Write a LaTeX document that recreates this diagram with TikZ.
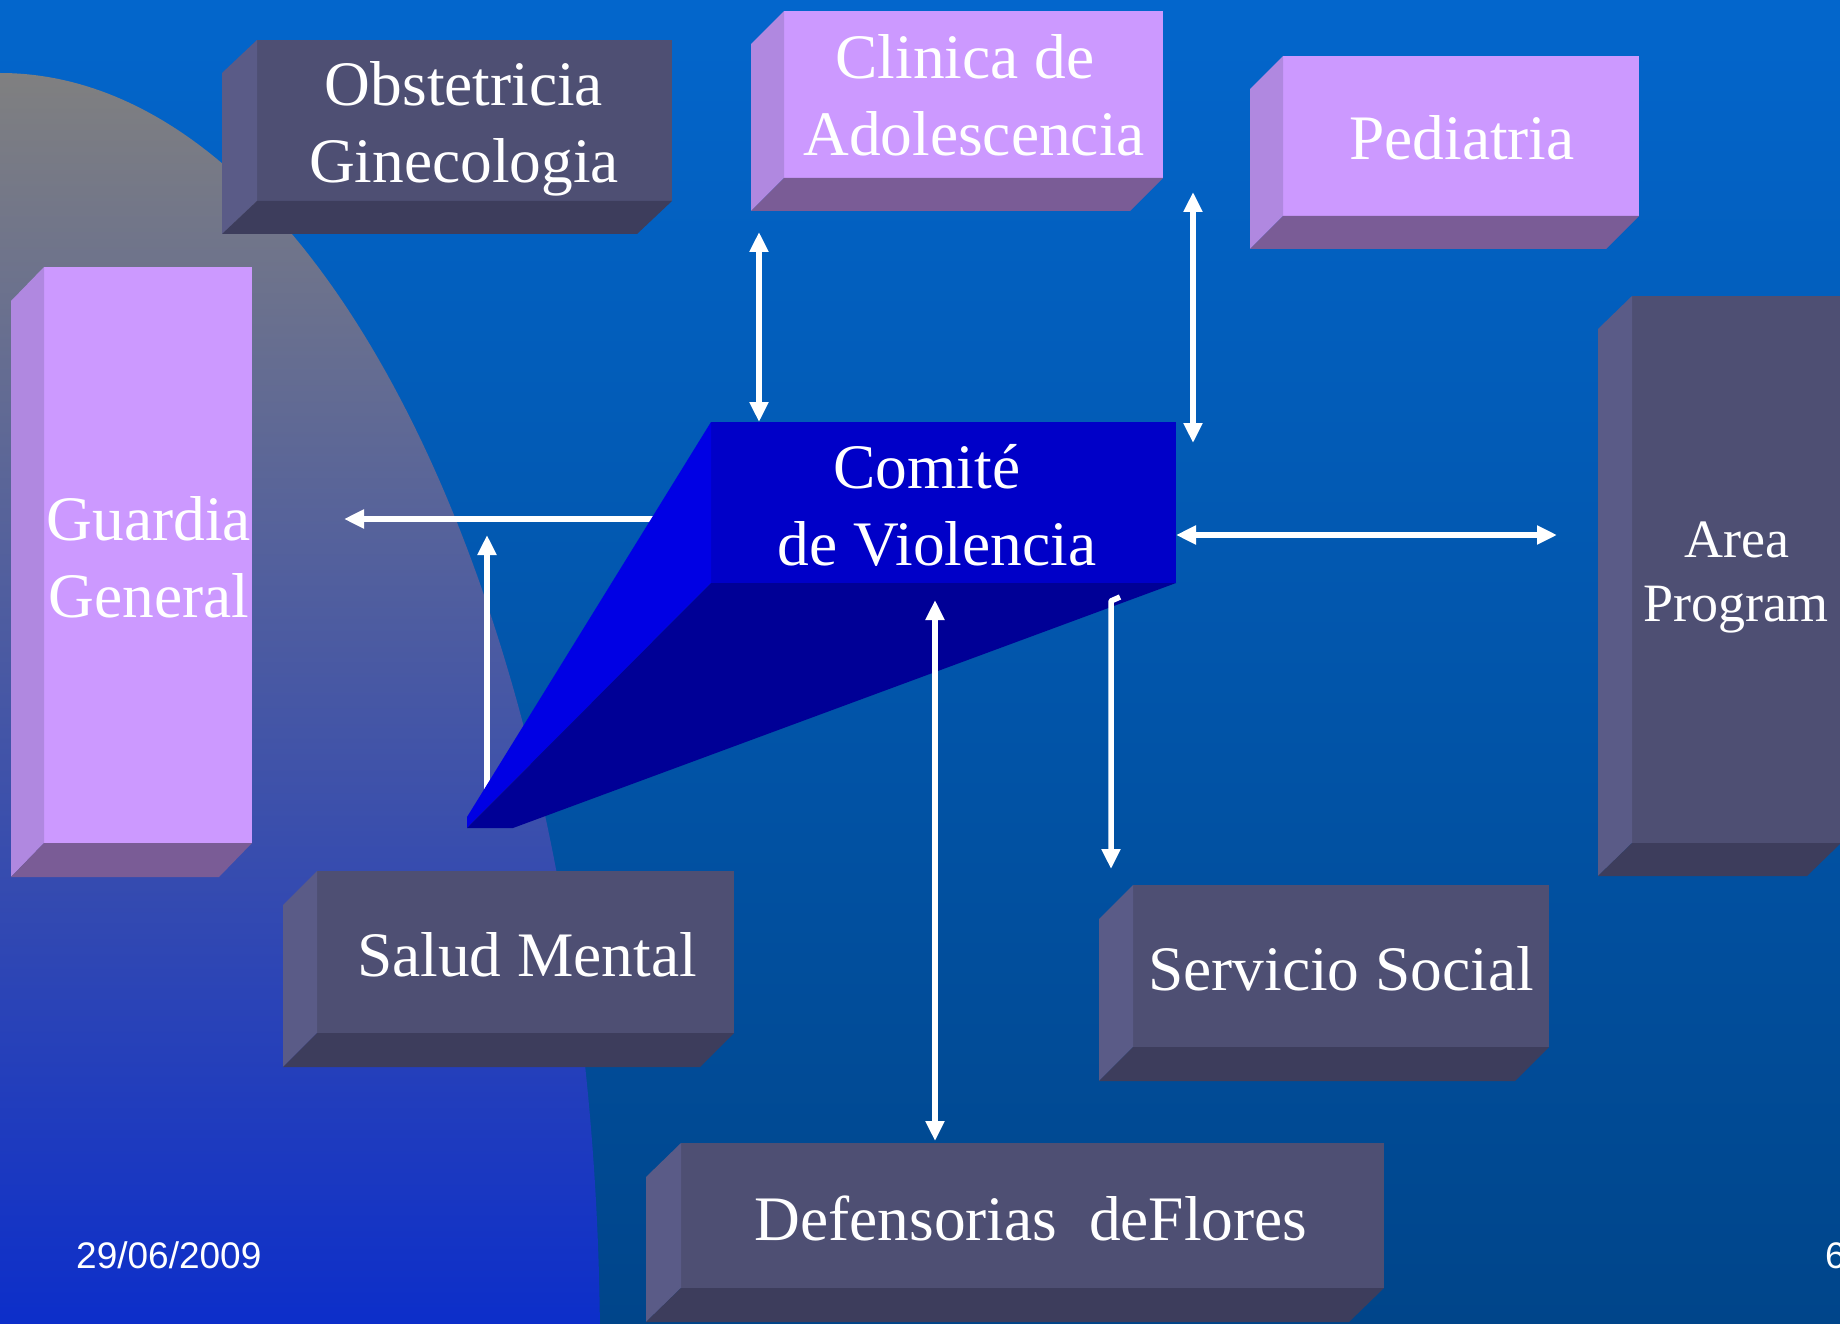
\documentclass[tikz,border=0pt]{standalone}
\usepackage{fontspec}
\setmainfont{Liberation Serif}
\newfontfamily\datefont{Liberation Sans}
\usetikzlibrary{arrows.meta}
\definecolor{bgtop}{RGB}{3,102,204}
\definecolor{bgbot}{RGB}{0,69,138}
\definecolor{gtop}{RGB}{128,128,128}
\definecolor{gmid}{RGB}{96,102,172}
\definecolor{gbot}{RGB}{12,46,202}
\definecolor{darkfront}{RGB}{78,79,115}
\definecolor{darkside}{RGB}{90,91,135}
\definecolor{darkbot}{RGB}{61,61,92}
\definecolor{lavfront}{RGB}{204,153,255}
\definecolor{lavside}{RGB}{176,136,224}
\definecolor{lavbot}{RGB}{122,92,150}
\definecolor{comfront}{RGB}{0,0,200}
\definecolor{comside}{RGB}{0,0,228}
\definecolor{combot}{RGB}{0,0,150}
\tikzset{
  face/.style={inner sep=0pt, outer sep=0pt, anchor=north west, draw=none},
  lbl/.style={text=white, anchor=base, inner sep=0pt, font=\fontsize{63.4}{77}\selectfont},
  lblsmall/.style={text=white, anchor=base, inner sep=0pt, font=\fontsize{54}{64}\selectfont},
  arr/.style={draw=white, line width=5.5pt, line join=round, -{Triangle[length=20pt,width=18pt]}},
  darr/.style={draw=white, line width=5.5pt, {Triangle[length=20pt,width=18pt]}-{Triangle[length=20pt,width=18pt]}},
  datestyle/.style={text=white, inner sep=0pt, anchor=base west, font=\datefont\fontsize{37}{44}\selectfont}
}
% #1 name, #2 x1, #3 y1, #4 x2, #5 y2, #6 dx, #7 dy, #8 colour prefix
\newcommand\mkbox[8]{%
  \node[face, fill=#8front, minimum width={#4-#2}, minimum height={#5-#3}] (#1) at (#2,#3) {};
  \fill[#8side] (#1.north west) -- ++(-#6,#7) -- ([shift={(-#6,#7)}]#1.south west) -- (#1.south west) -- cycle;
  \fill[#8bot] (#1.south west) -- (#1.south east) -- ++(-#6,#7) -- ([shift={(-#6,#7)}]#1.south west) -- cycle;
}
\begin{document}
\begin{tikzpicture}[x=1pt,y=-1pt]
\useasboundingbox (0,0) rectangle (1840,1324);
% background
\shade[top color=bgtop, bottom color=bgbot] (0,0) rectangle (1840,1324);
\begin{scope}
  \clip (0,1350) ellipse [x radius=600pt, y radius=1277pt];
  \shade[top color=gtop, middle color=gmid, bottom color=gbot] (-10,70) rectangle (620,1330);
\end{scope}

% boxes
\mkbox{obs}{257}{40}{672}{201}{35}{33}{dark}
\mkbox{cli}{784}{11}{1163}{178}{33}{33}{lav}
\mkbox{ped}{1283}{56}{1639}{216}{33}{33}{lav}
\mkbox{gua}{44}{267}{252}{843}{33}{34}{lav}
\mkbox{area}{1632}{296}{1841}{843}{34}{33}{dark}
\mkbox{sal}{317}{871}{734}{1033}{34}{34}{dark}
\mkbox{ser}{1133}{885}{1549}{1047}{34}{34}{dark}
\mkbox{def}{681}{1143}{1384}{1288}{35}{34}{dark}

% arrows behind the prism
\coordinate (a4s) at (665,519);
\coordinate (a4e) at (344,519);
\draw[arr] (a4s) -- (a4e);
\coordinate (a5s) at (487,800);
\coordinate (a5e) at (487,535);
\draw[arr] (a5s) -- (a5e);

% Comite prism
\node[face, fill=comfront, minimum width=465, minimum height=161] (com) at (711,422) {};
\coordinate (tipA) at (467,817);
\coordinate (tipB) at (467,828);
\coordinate (tipC) at (513,828);
\fill[comside] (com.north west) -- (tipA) -- (tipB) -- (com.south west) -- cycle;
\fill[combot] (com.south west) -- (tipB) -- (tipC) -- (com.south east) -- cycle;

% labels
\node[lbl] (tobs1) at (464,106) {Obstetricia};
\node[lbl] (tobs2) at (464,183) {Ginecologia};
\node[lbl] (tcli1) at (965,79) {Clinica de};
\node[lbl] (tcli2) at (974,156) {Adolescencia};
\node[lbl] (tped) at (1462,160) {Pediatria};
\node[lbl] (tgua1) at (149,540) {Guardia};
\node[lbl] (tgua2) at (149,617) {General};
\node[lbl] (tcom1) at (927,488) {Comité};
\node[lbl] (tcom2) at (937,565) {de Violencia};
\node[lblsmall] (tarea1) at (1737,557) {Area};
\node[lblsmall] (tarea2) at (1736,621) {Program};
\node[lbl] (tsal) at (527,976) {Salud Mental};
\node[lbl] (tser) at (1341,990) {Servicio Social};
\node[lbl] (tdef) at (1031,1240) {Defensorias\ \ deFlores};

% other arrows
\coordinate (a1s) at (759,232);
\draw[darr] (a1s) -- (a1s |- com.north);
\coordinate (a2s) at (1193,192);
\coordinate (a2e) at (1193,443);
\draw[darr] (a2s) -- (a2e);
\coordinate (a3e) at (1557,535);
\draw[darr] (com.east |- a3e) -- (a3e);
\coordinate (a6s) at (935,600);
\coordinate (a6e) at (935,1141);
\draw[darr] (a6s) -- (a6e);
\coordinate (a7h) at (1120,597);
\coordinate (a7s) at (1111,601);
\coordinate (a7e) at (1111,869);
\draw[arr] (a7h) -- (a7s) -- (a7e);

% footer
\node[datestyle] (date) at (76,1268) {29/06/2009};
\node[datestyle] (pnum) at (1825,1268) {6};
\end{tikzpicture}
\end{document}
